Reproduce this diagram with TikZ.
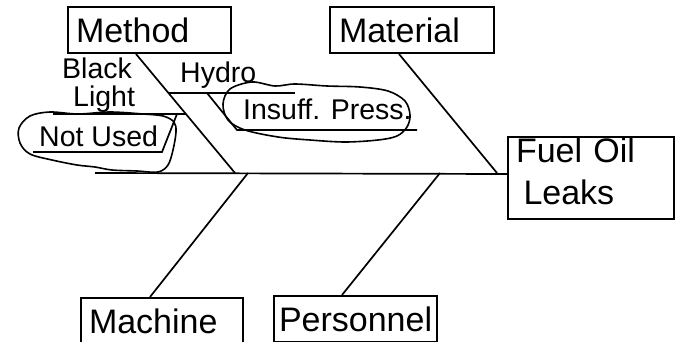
\documentclass[tikz,border=0pt]{standalone}
\usepackage{fontspec}
\setmainfont{Liberation Sans}
\usetikzlibrary{calc}
\newcommand{\bigtxt}{\fontsize{34}{42}\selectfont}
\newcommand{\smalltxt}{\fontsize{28.5}{32}\selectfont}
\tikzset{
  box/.style={draw, line width=2pt, anchor=north west, align=left, inner ysep=0pt, font=\bigtxt},
  lbl/.style={anchor=base west, inner sep=0pt, font=\smalltxt},
  bone/.style={line width=1.7pt},
  cloud/.style={line width=1.6pt, line join=round}
}
\begin{document}
\begin{tikzpicture}[x=1pt, y=-1pt]
\useasboundingbox (0,0) rectangle (675,342);
\node[box, minimum width=163, minimum height=46, text width=147, inner xsep=8] (method) at (67,6) {Method};
\node[box, minimum width=164, minimum height=46, text width=146, inner xsep=9] (material) at (329,6) {Material};
\node[box, minimum width=166, minimum height=82, text width=150, inner xsep=8] (fuel) at (507,136) {Fuel Oil\\\hspace*{7.5pt}Leaks\rule[-13pt]{0pt}{13pt}};
\node[box, minimum width=162, minimum height=47, text width=146, inner xsep=8] (machine) at (80,297) {Machine};
\node[box, minimum width=163, minimum height=46, text width=153, inner xsep=5] (personnel) at (273,295) {Personnel};
\node[lbl] (black) at (62,79) {Black};
\node[lbl] (light) at (73,107) {Light};
\node[lbl] (hydro) at (180,83) {Hydro};
\node[lbl] (insuff) at (243,120) {Insuff. Press.};
\node[lbl] (notused) at (39,147) {Not Used};
\coordinate (tail) at (95,173);
\coordinate (j1) at (235,173);
\coordinate (j2) at (497,173);
\coordinate (j3) at (248,173);
\coordinate (j4) at (440,173);
\coordinate (hy1) at (169,93);
\coordinate (hy2) at (295,93);
\coordinate (hy3) at (207,93);
\coordinate (ip1) at (237,130);
\coordinate (ip2) at (417,130);
\coordinate (bl1) at (53,114);
\coordinate (bl2) at (186,114);
\coordinate (bl3) at (177,114);
\coordinate (nu1) at (162,152);
\coordinate (nu2) at (33,152);
\draw[bone] (tail) -- ([yshift=4]fuel.west);
\draw[bone] ([xshift=-13.5]method.south) -- (j1);
\draw[bone] ([xshift=-13]material.south) -- (j2);
\draw[bone] (j3) -- ([xshift=-12]machine.north);
\draw[bone] (j4) -- ([xshift=-13.5]personnel.north);
\draw[bone] (hy1) -- (hy2);
\draw[bone] (hy3) -- (ip1) -- (ip2);
\draw[bone] (bl1) -- (bl2);
\draw[bone] (bl3) -- (nu1) -- (nu2);
% hand drawn rings
\draw[cloud] plot[smooth cycle, tension=0.55] coordinates {(30,116) (50,112) (78,114) (110,112) (143,114) (163,116) (174,122) (176,132) (173,150) (168,165) (158,172) (137,171) (112,170) (95,167) (77,165) (52,160) (30,154) (20,143) (19,128)};
\draw[cloud] plot[smooth cycle, tension=0.55] coordinates {(230,89) (252,82) (275,86) (295,84) (327,86) (360,87) (388,91) (405,101) (410,115) (407,127) (397,136) (378,140) (345,142) (310,140) (278,137) (245,130) (228,120) (223,104)};
\end{tikzpicture}
\end{document}
